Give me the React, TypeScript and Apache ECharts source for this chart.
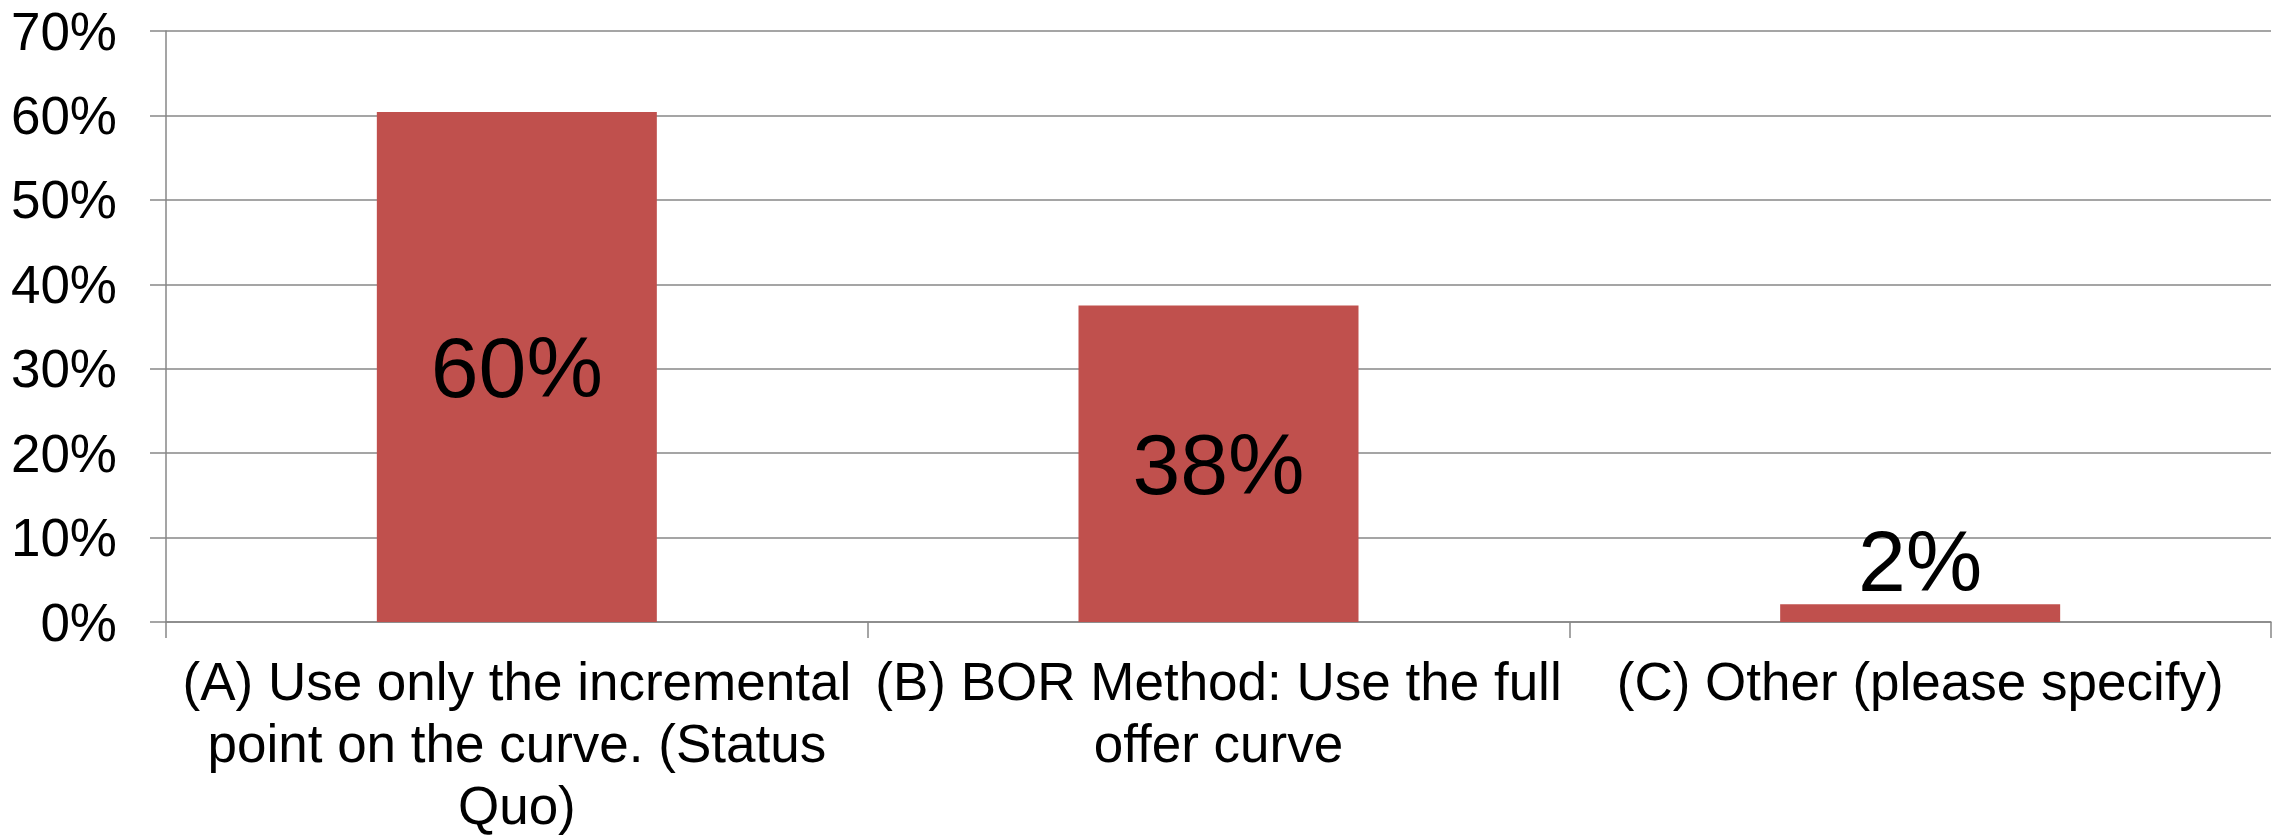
import React, { useEffect, useRef } from "react";
import * as echarts from "echarts";

const categories = [
  "(A) Use only the incremental\npoint on the curve. (Status\nQuo)",
  "(B) BOR Method: Use the full\noffer curve",
  "(C) Other (please specify)",
];
const values = [0.604, 0.375, 0.021];
const labelPositions = ["inside", "inside", "top"];
const yTicks = { min: 0, max: 0.7, interval: 0.1 };

const FONT = "'Liberation Sans', Arial, sans-serif";
const GRAY = "#878787";

export default function App() {
  const ref = useRef<HTMLDivElement>(null);
  useEffect(() => {
    document.body.style.margin = "0";
    document.body.style.overflow = "hidden";
    if (!ref.current) return;
    const chart = echarts.init(ref.current, undefined, { renderer: "svg" });
    chart.setOption({
      animation: false,
      backgroundColor: "#ffffff",
      grid: { left: 166, right: 4, top: 31, bottom: 213, containLabel: false },
      xAxis: {
        type: "category",
        data: categories,
        boundaryGap: true,
        axisLine: { show: true, lineStyle: { color: GRAY, width: 1.5 } },
        axisTick: { show: true, length: 16, alignWithLabel: false, lineStyle: { color: GRAY, width: 1.5 } },
        axisLabel: {
          interval: 0,
          color: "#000",
          fontFamily: FONT,
          fontSize: 53,
          lineHeight: 62,
          margin: 28,
          align: "center",
        },
      },
      yAxis: {
        type: "value",
        min: yTicks.min,
        max: yTicks.max,
        interval: yTicks.interval,
        axisLine: { show: true, lineStyle: { color: GRAY, width: 1.5 } },
        axisTick: { show: true, length: 16, lineStyle: { color: GRAY, width: 1.5 } },
        splitLine: { show: true, lineStyle: { color: GRAY, width: 1.5 } },
        axisLabel: {
          color: "#000",
          fontFamily: FONT,
          fontSize: 53,
          margin: 49,
          formatter: (v: number) => Math.round(v * 100) + "%",
        },
      },
      series: [
        {
          type: "bar",
          barWidth: 280,
          data: values.map((v, i) => ({
            value: v,
            label: { position: labelPositions[i] },
          })),
          itemStyle: { color: "#C0504D" },
          label: {
            show: true,
            color: "#000",
            fontFamily: FONT,
            fontSize: 86,
            distance: 0,
            formatter: (p: any) => Math.round(p.value * 100) + "%",
          },
        },
      ],
    });
    return () => chart.dispose();
  }, []);
  return (
    <div
      ref={ref}
      style={{ position: "absolute", left: 0, top: 0, width: 2275, height: 836, background: "#fff" }}
    />
  );
}
